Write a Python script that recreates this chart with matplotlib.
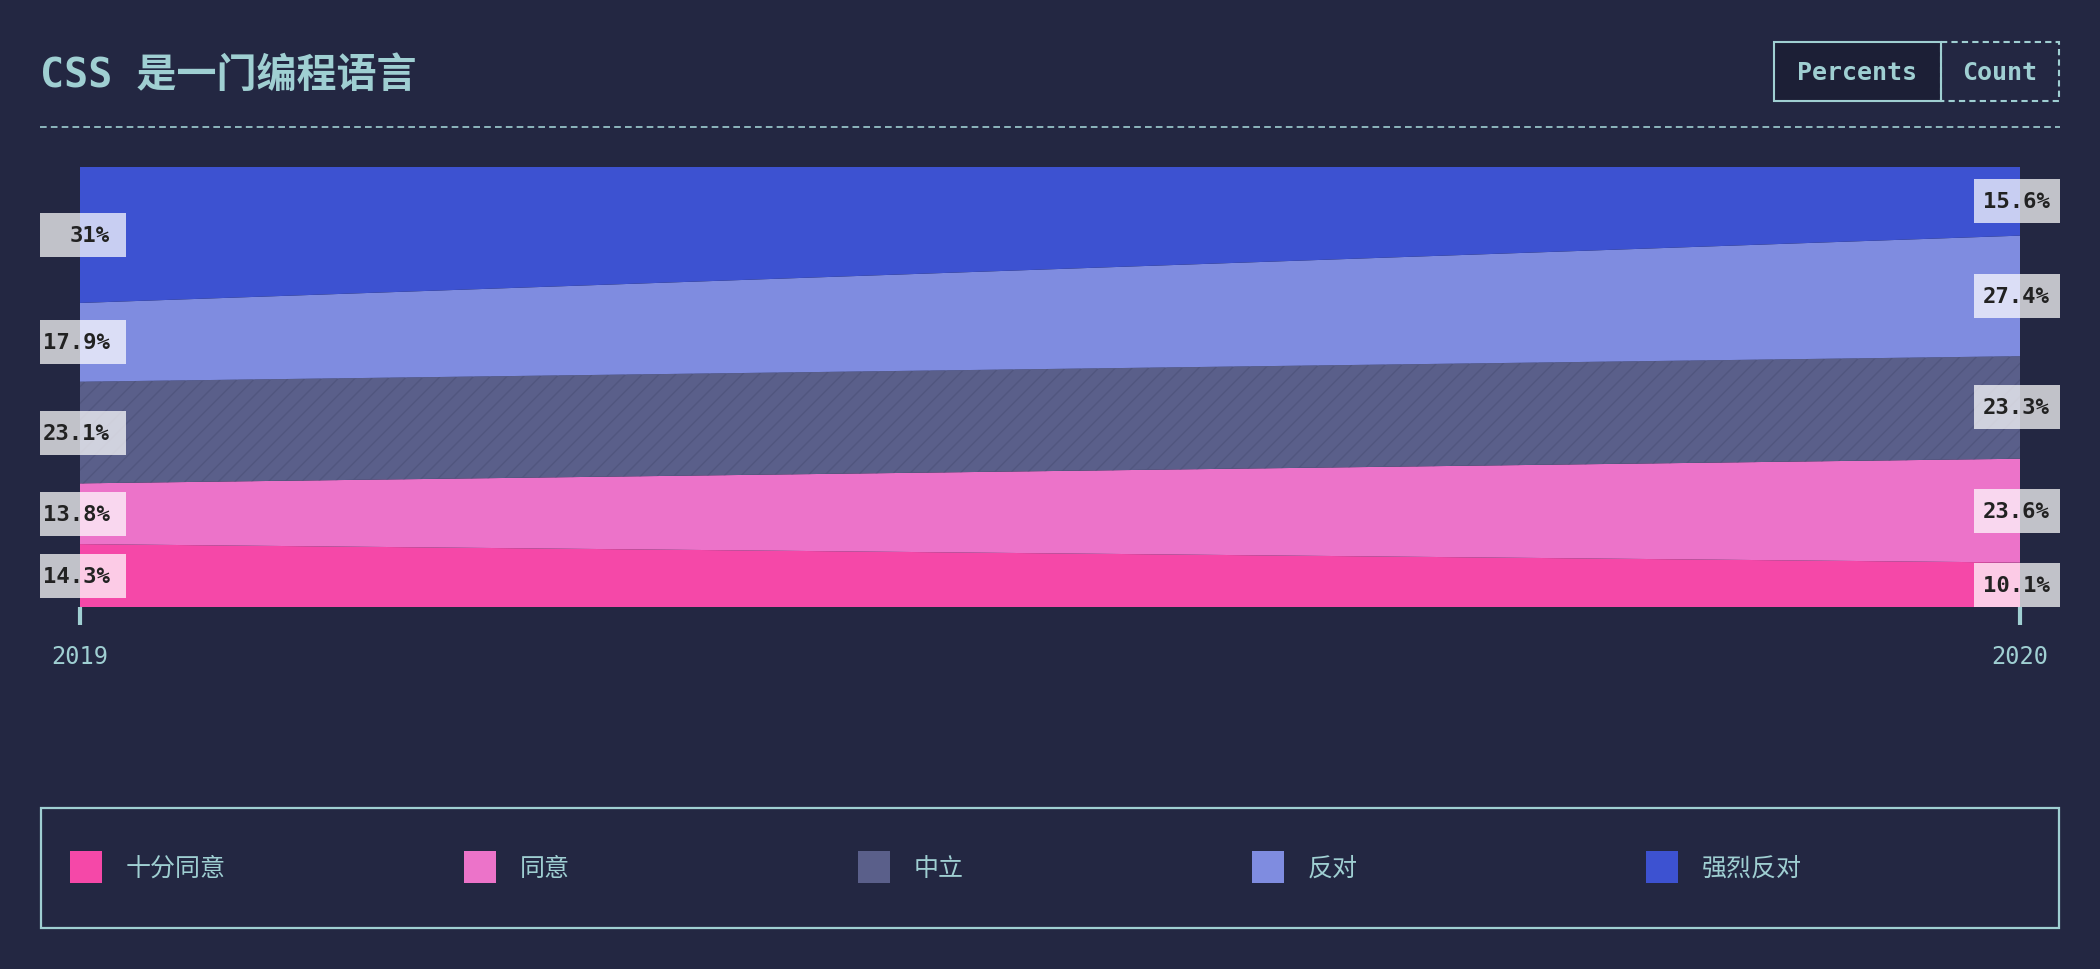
import matplotlib
matplotlib.use("Agg")
import matplotlib.pyplot as plt
from matplotlib.patches import Rectangle
from matplotlib.transforms import blended_transform_factory

# chart data
years = ["2019", "2020"]
categories = ["十分同意", "同意", "中立", "反对", "强烈反对"]
pct_2019 = [14.3, 13.8, 23.1, 17.9, 31]
pct_2020 = [10.1, 23.6, 23.3, 27.4, 15.6]
colors = ["#f548a8", "#ec73c9", "#5a5f8a", "#7f8ce0", "#3d52d1"]

BG = "#232742"
TEAL = "#9fcfd2"
MONO = ["DejaVu Sans Mono", "Noto Sans CJK SC"]
CJK = ["Noto Sans CJK SC", "DejaVu Sans"]

W, H = 2100, 970
fig = plt.figure(figsize=(W / 100, H / 100), dpi=100, facecolor=BG)

# overlay in pixel coords for the decorations
deco = fig.add_axes([0, 0, 1, 1])
deco.set_xlim(0, W)
deco.set_ylim(H, 0)
deco.axis("off")
deco.set_facecolor(BG)

deco.text(40, 75, "CSS 是一门编程语言", color=TEAL, fontsize=28.8, fontweight="bold",
          family=MONO, va="center", ha="left")
deco.plot([40, 2060], [128, 128], color=TEAL, lw=1.2, dashes=(4, 2.5))

# Percents / Count switch
deco.add_patch(Rectangle((1774, 43), 167, 59, facecolor="#1c1f36", edgecolor=TEAL, lw=1.5))
deco.add_patch(Rectangle((1941, 43), 118, 59, facecolor="none", edgecolor=TEAL, lw=1.5,
                         linestyle=(0, (3, 2))))
deco.text(1857, 73, "Percents", color=TEAL, fontsize=18, fontweight="bold", family=MONO,
          ha="center", va="center")
deco.text(2000, 73, "Count", color=TEAL, fontsize=18, fontweight="bold", family=MONO,
          ha="center", va="center")

# legend box
deco.add_patch(Rectangle((41, 809), 2018, 120, facecolor="none", edgecolor=TEAL, lw=1.6))
for i, (cat, col) in enumerate(zip(categories, colors)):
    x0 = 70 + i * 394
    deco.add_patch(Rectangle((x0, 852), 32, 32, facecolor=col, edgecolor="none"))
    deco.text(x0 + 56, 869, cat, color=TEAL, fontsize=18, family=CJK, ha="left", va="center")

# main chart
ax = fig.add_axes([80 / W, (H - 608) / H, 1940 / W, 440 / H])
ax.set_facecolor(BG)
xs = [0, 1]
series = [[a, b] for a, b in zip(pct_2019, pct_2020)]
polys = ax.stackplot(xs, *series, colors=colors, linewidth=0)
plt.rcParams["hatch.color"] = "#51567f"
plt.rcParams["hatch.linewidth"] = 3.0
polys[2].set_hatch("//")
polys[2].set_edgecolor("#51567f")
polys[2].set_linewidth(0)

ax.set_xlim(0, 1)
ax.set_ylim(0, 100)
for s in ax.spines.values():
    s.set_visible(False)
ax.set_yticks([])
ax.set_xticks(xs)
ax.set_xticklabels(years, fontsize=17, color=TEAL, family=MONO)
ax.tick_params(axis="x", length=13, width=3, color=TEAL, pad=14)

# value labels on both edges
tr = blended_transform_factory(ax.transAxes, ax.transData)
bw = 86 / 1940
bh = 10
for vals, side in [(pct_2019, 0), (pct_2020, 1)]:
    base = 0
    for v in vals:
        top = min(base + v, 100)
        mid = (base + top) / 2
        if side == 0:
            bx = -40 / 1940
            tx = 30 / 1940
        else:
            bx = 1 - 46 / 1940
            tx = 1 + 30 / 1940
        ax.add_patch(Rectangle((bx, mid - bh / 2), bw, bh, transform=tr, clip_on=False,
                               facecolor="white", alpha=0.72, edgecolor="none", zorder=5))
        lbl = f"{v:g}%"
        ax.text(tx, mid, lbl, transform=tr, ha="right", va="center", fontsize=16,
                fontweight="bold", family=MONO, color="#222222", zorder=6)
        base += v

fig.savefig("out.png", dpi=100, facecolor=BG)
